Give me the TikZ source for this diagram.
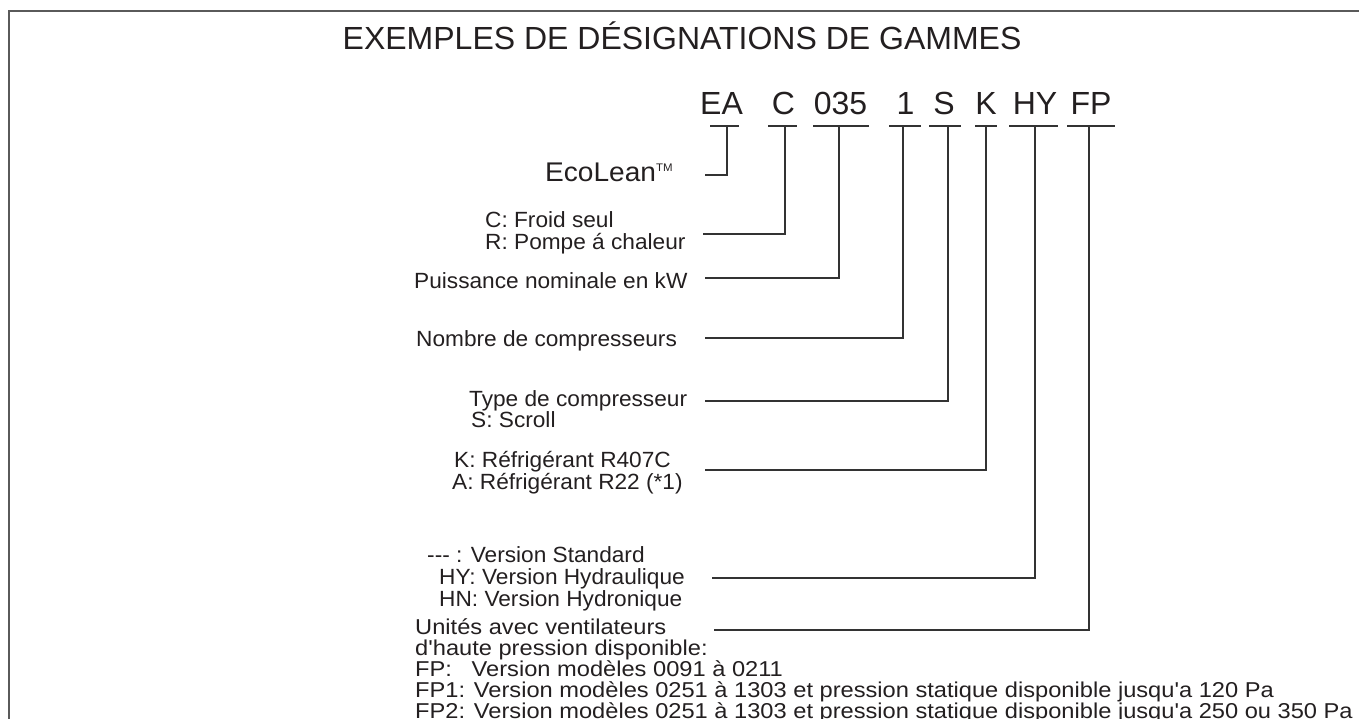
\documentclass[tikz,border=0pt]{standalone}
\usepackage{fontspec}
\setmainfont{Liberation Sans}
\newfontfamily\lblfont[FakeStretch=1.03]{Liberation Sans}
\newfontfamily\ecofont[FakeStretch=1.04]{Liberation Sans}
\newfontfamily\notefont[FakeStretch=1.1]{Liberation Sans}
\definecolor{ink}{HTML}{231F20}
\definecolor{wirec}{HTML}{333333}
\definecolor{framec}{HTML}{5A5A5A}
\begin{document}
\begin{tikzpicture}[x=1pt,y=-1pt,
  txt/.style={inner sep=0pt, anchor=base west, text=ink},
  titlestyle/.style={txt, font=\fontsize{32}{38}\selectfont},
  codestyle/.style={inner sep=0pt, anchor=base, text=ink, font=\fontsize{32}{38}\selectfont},
  lbl/.style={txt, font=\lblfont\fontsize{22}{24}\selectfont},
  eco/.style={txt, font=\ecofont\fontsize{27}{30}\selectfont},
  note/.style={txt, font=\notefont\fontsize{21.5}{23}\selectfont},
  under/.style={draw=wirec, line width=1.3pt},
  wire/.style={draw=wirec, line width=1.2pt},
  ]
\useasboundingbox (0,0) rectangle (1359,719);
\draw[framec, line width=2pt] (9,719) -- (9,11) -- (1359,11);

% title
\node[titlestyle] (title) at (342.5,50) {EXEMPLES DE DÉSIGNATIONS DE GAMMES};

% code letters
\node[codestyle] (cEA)  at (721.5,115) {EA};
\node[codestyle] (cC)   at (783.5,115) {C};
\node[codestyle] (c035) at (840.5,115) {035};
\node[codestyle] (c1)   at (905.5,115) {1};
\node[codestyle] (cS)   at (944,115) {S};
\node[codestyle] (cK)   at (986,115) {K};
\node[codestyle] (cHY)  at (1035,115) {HY};
\node[codestyle] (cFP)  at (1091,115) {FP};

% underlines
\draw[under] (710,126) -- (739,126);
\draw[under] (768,126) -- (797,126);
\draw[under] (813,126) -- (869,126);
\draw[under] (889,126) -- (921,126);
\draw[under] (929,126) -- (961,126);
\draw[under] (975,126) -- (997,126);
\draw[under] (1009,126) -- (1058,126);
\draw[under] (1067,126) -- (1115,126);

% tick coordinates
\coordinate (tEA)  at (727,126);
\coordinate (tC)   at (785,126);
\coordinate (t035) at (839,126);
\coordinate (t1)   at (903,126);
\coordinate (tS)   at (948,126);
\coordinate (tK)   at (986,126);
\coordinate (tHY)  at (1035,126);
\coordinate (tFP)  at (1089,126);

% line ends near labels
\coordinate (eEA)  at (705,175);
\coordinate (eC)   at (703,234);
\coordinate (e035) at (705,278);
\coordinate (e1)   at (705,338);
\coordinate (eS)   at (705,401);
\coordinate (eK)   at (705,470);
\coordinate (eHY)  at (712,578);
\coordinate (eFP)  at (714,630);

% labels
\node[eco] (lEA) at (545,182) {EcoLean\raisebox{10pt}{\fontsize{11}{12}\selectfont TM}};
\node[lbl] (lC1) at (485,228) {C: Froid seul};
\node[lbl] (lC2) at (485,250) {R: Pompe á chaleur};
\node[lbl] (l035) at (414,288) {Puissance nominale en kW};
\node[lbl] (l1) at (416,346) {Nombre de compresseurs};
\node[lbl] (lS1) at (469,406) {Type de compresseur};
\node[lbl] (lS2) at (471,427) {S: Scroll};
\node[lbl] (lK1) at (454,467) {K: Réfrigérant R407C};
\node[lbl] (lK2) at (452,489) {A: Réfrigérant R22 (*1)};
\node[lbl] (lHY1) at (427,562) {--{}- : Version Standard};
\node[lbl] (lHY2) at (439,584) {HY: Version Hydraulique};
\node[lbl] (lHY3) at (439,606) {HN: Version Hydronique};
\node[note] (lFP1) at (415,634) {Unités avec ventilateurs};
\node[note] (lFP2) at (415,655) {d'haute pression disponible:};
\node[note] (lFP3) at (415,676) {\rlap{FP:}\phantom{FP1:} Version modèles 0091 à 0211};
\node[note] (lFP4) at (415,697) {FP1: Version modèles 0251 à 1303 et pression statique disponible jusqu'a 120 Pa};
\node[note] (lFP5) at (415,718) {FP2: Version modèles 0251 à 1303 et pression statique disponible jusqu'a 250 ou 350 Pa};

% connectors
\draw[wire] (tEA) |- (eEA);
\draw[wire] (tC) |- (eC);
\draw[wire] (t035) |- (e035);
\draw[wire] (t1) |- (e1);
\draw[wire] (tS) |- (eS);
\draw[wire] (tK) |- (eK);
\draw[wire] (tHY) |- (eHY);
\draw[wire] (tFP) |- (eFP);
\end{tikzpicture}
\end{document}
